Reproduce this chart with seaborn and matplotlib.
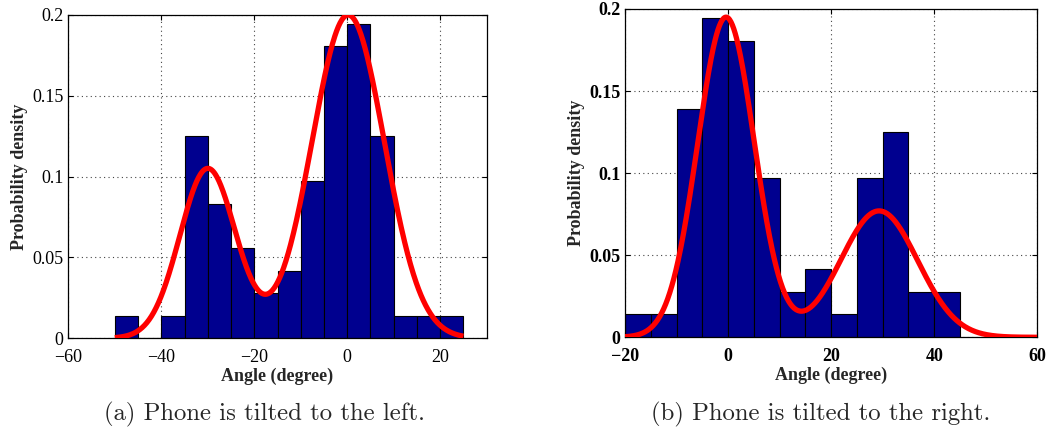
import numpy as np
import pandas as pd
import matplotlib
matplotlib.use("Agg")
import matplotlib.pyplot as plt
import seaborn as sns

# ---- histogram data (probability per 5-degree bin) ----
bin_width = 5

left_bin_starts = [-50, -45, -40, -35, -30, -25, -20, -15, -10, -5, 0, 5, 10, 15, 20]
left_prob = [0.0139, 0.0, 0.0139, 0.125, 0.0833, 0.0556, 0.0278, 0.0417,
             0.0972, 0.1806, 0.1944, 0.125, 0.0139, 0.0139, 0.0139]

right_bin_starts = [-20, -15, -10, -5, 0, 5, 10, 15, 20, 25, 30, 35, 40]
right_prob = [0.0139, 0.0139, 0.1389, 0.1944, 0.1806, 0.0972, 0.0278,
              0.0417, 0.0139, 0.0972, 0.125, 0.0278, 0.0278]

# ---- two-component Gaussian mixture fits (mean, std, peak height) ----
left_fit_mean = [0.2, -30.0]
left_fit_std = [7.8, 6.0]
left_fit_peak = [0.200, 0.105]
left_fit_range = [-50, 25]

right_fit_mean = [-0.4, 29.3]
right_fit_std = [5.5, 7.5]
right_fit_peak = [0.195, 0.077]
right_fit_range = [-20, 60]

y_ticks = [0, 0.05, 0.1, 0.15, 0.2]
y_tick_labels = ["0", "0.05", "0.1", "0.15", "0.2"]
left_x_ticks = [-60, -40, -20, 0, 20]
right_x_ticks = [-20, 0, 20, 40, 60]

captions = ["(a) Phone is tilted to the left.", "(b) Phone is tilted to the right."]

BAR_COLOR = "#00008F"

sns.set_style("ticks")
plt.rcParams["font.family"] = ["Liberation Serif", "DejaVu Serif"]
plt.rcParams["axes.unicode_minus"] = True


def mixture_curve(lo, hi, means, stds, peaks, n=600):
    xs = np.linspace(lo, hi, n)
    ys = np.zeros_like(xs)
    for m, s, p in zip(means, stds, peaks):
        ys += p * np.exp(-(xs - m) ** 2 / (2 * s ** 2))
    return xs, ys


def draw_panel(ax, starts, probs, fit, xlim, xticks, bold_ticks):
    starts = [float(s) for s in starts]
    edges = starts + [starts[-1] + bin_width]
    hist_df = pd.DataFrame({"angle": [s + bin_width / 2 for s in starts],
                            "prob": probs})
    sns.histplot(data=hist_df, x="angle", weights="prob", bins=edges,
                 stat="count", color=BAR_COLOR, edgecolor="black",
                 linewidth=0.8, alpha=1.0, ax=ax, zorder=2)
    xs, ys = mixture_curve(*fit)
    sns.lineplot(x=xs, y=ys, color="#FF0000", linewidth=3.8, ax=ax,
                 zorder=3, solid_capstyle="butt")

    ax.set_xlim(*xlim)
    ax.set_ylim(0, 0.2)
    ax.set_xticks(xticks)
    ax.set_xticklabels([f"{t}".replace("-", "\u2212") for t in xticks])
    ax.set_yticks(y_ticks)
    ax.set_yticklabels(y_tick_labels)

    ax.set_axisbelow(True)
    ax.grid(True, linestyle=(0, (1, 3)), color="#444444", linewidth=0.8)
    for sp in ax.spines.values():
        sp.set_visible(True)
        sp.set_linewidth(0.9)
        sp.set_color("black")
    ax.tick_params(direction="in", length=3.5, width=0.8, top=True,
                   right=True, labelsize=13, colors="black")
    ax.tick_params(axis="x", pad=7.5)
    ax.tick_params(axis="y", pad=3.5)
    weight = "bold" if bold_ticks else "normal"
    for lbl in ax.get_xticklabels() + ax.get_yticklabels():
        lbl.set_fontweight(weight)

    ax.set_xlabel("Angle (degree)", fontsize=13, fontweight="bold", labelpad=1.5)
    ax.set_ylabel("Probability density", fontsize=13, fontweight="bold", labelpad=3)


fig = plt.figure(figsize=(10.59, 4.30), dpi=100)
ax_left = fig.add_axes([0.0645, 0.2133, 0.3951, 0.7519])
ax_right = fig.add_axes([0.5902, 0.2156, 0.3893, 0.7635])

draw_panel(ax_left, left_bin_starts, left_prob,
           (left_fit_range[0], left_fit_range[1], left_fit_mean, left_fit_std, left_fit_peak),
           (-60, 30), left_x_ticks, bold_ticks=False)
draw_panel(ax_right, right_bin_starts, right_prob,
           (right_fit_range[0], right_fit_range[1], right_fit_mean, right_fit_std, right_fit_peak),
           (-20, 60), right_x_ticks, bold_ticks=True)

fig.text(264 / 1059, 1 - 414 / 430, captions[0], ha="center", va="center",
         fontsize=17.8, family=["cmr10", "DejaVu Serif"])
fig.text(821 / 1059, 1 - 414 / 430, captions[1], ha="center", va="center",
         fontsize=17.8, family=["cmr10", "DejaVu Serif"])

fig.savefig("out.png", dpi=100)
